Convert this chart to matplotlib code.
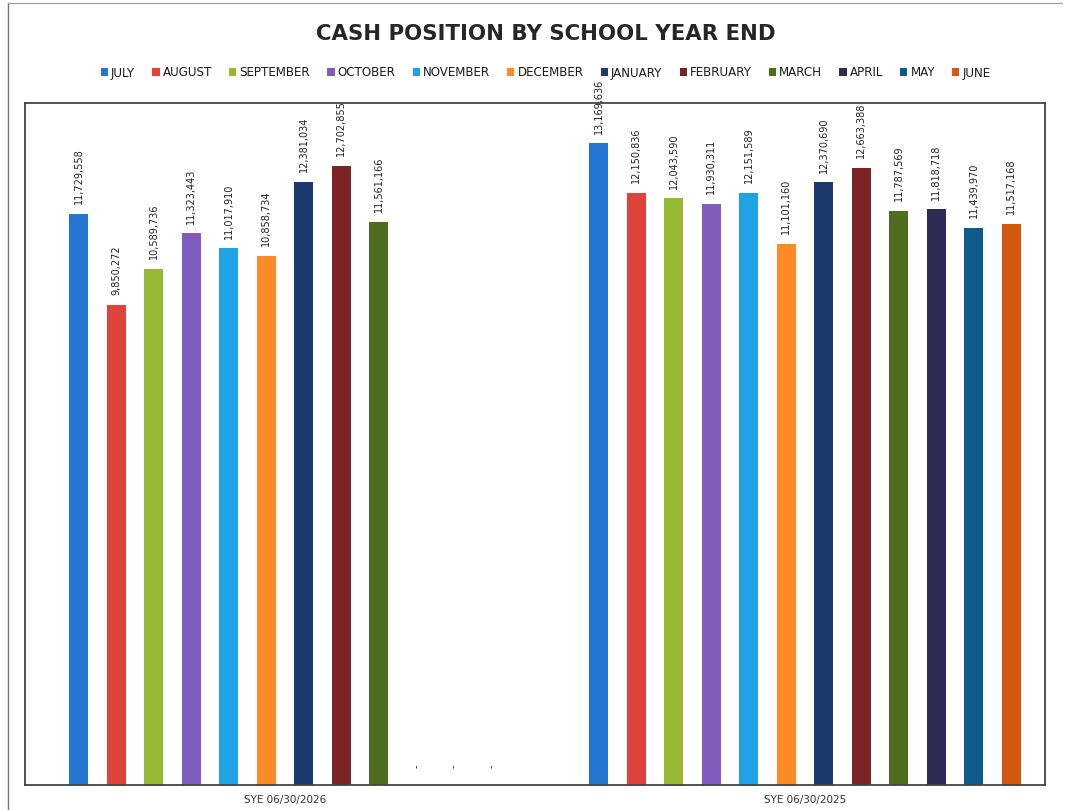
import matplotlib
matplotlib.use("Agg")
import matplotlib.pyplot as plt
import numpy as np
from matplotlib.lines import Line2D

groups = ["SYE 06/30/2026", "SYE 06/30/2025"]
months = ["JULY", "AUGUST", "SEPTEMBER", "OCTOBER", "NOVEMBER", "DECEMBER",
          "JANUARY", "FEBRUARY", "MARCH", "APRIL", "MAY", "JUNE"]
sye_2026 = [11729558, 9850272, 10589736, 11323443, 11017910, 10858734,
            12381034, 12702855, 11561166, 0, 0, 0]
sye_2025 = [13169636, 12150836, 12043590, 11930311, 12151589, 11101160,
            12370690, 12663388, 11787569, 11818718, 11439970, 11517168]
colors = ["#2377d2", "#e0433b", "#95b930", "#7f5cbd", "#1fa2e6", "#ff8b27",
          "#1b3b6f", "#7b2426", "#4f6c1f", "#2f2b56", "#0f5b8b", "#d2570f"]

fig = plt.figure(figsize=(10.68, 8.10), dpi=100)
ax = fig.add_axes([25/1068, 1-785/810, 1020/1068, (785-103)/810])

n = len(months)
slot = 37.5/520
bw = 19/520
x = np.arange(len(groups))
for i, m in enumerate(months):
    vals = [sye_2026[i], sye_2025[i]]
    pos = x + (i - (n-1)/2) * slot
    bars = ax.bar(pos, vals, width=bw, color=colors[i], label=m, zorder=2)
    for b, v in zip(bars, vals):
        txt = f"{v:,}" if v else "-"
        off = 7 if v else 12
        ax.annotate(txt, (b.get_x()+b.get_width()/2, v), xytext=(0, off),
                    textcoords="offset points", rotation=90, ha="center",
                    va="bottom", fontsize=7, color="#222222")

ax.set_xlim(-0.5, (1045-285)/520)
ax.set_ylim(0, 14000000)
ax.set_yticks([])
ax.set_xticks(x)
ax.set_xticklabels(groups, fontsize=7.5, color="#333333")
ax.tick_params(axis="x", length=0, pad=7)
for s in ax.spines.values():
    s.set_color("#444444")
    s.set_linewidth(1.3)

fig.text(0.511, 1-34/810, "CASH POSITION BY SCHOOL YEAR END", ha="center",
         va="center", fontsize=15.3, fontweight="bold", color="#262626")
fig.legend(loc="center", bbox_to_anchor=(0.511, 1-73/810), ncol=12,
           frameon=False, fontsize=8.6, handlelength=0.6, handleheight=0.6,
           handletextpad=0.25, columnspacing=1.45, borderaxespad=0,
           labelcolor="#1a1a1a")

# outer frame lines
fig.add_artist(Line2D([8/1068, 8/1068], [0, 1-3/810], color="#777777", lw=1))
fig.add_artist(Line2D([8/1068, 1062/1068], [1-3/810, 1-3/810], color="#999999", lw=0.8))

fig.savefig("out.png", dpi=100)
